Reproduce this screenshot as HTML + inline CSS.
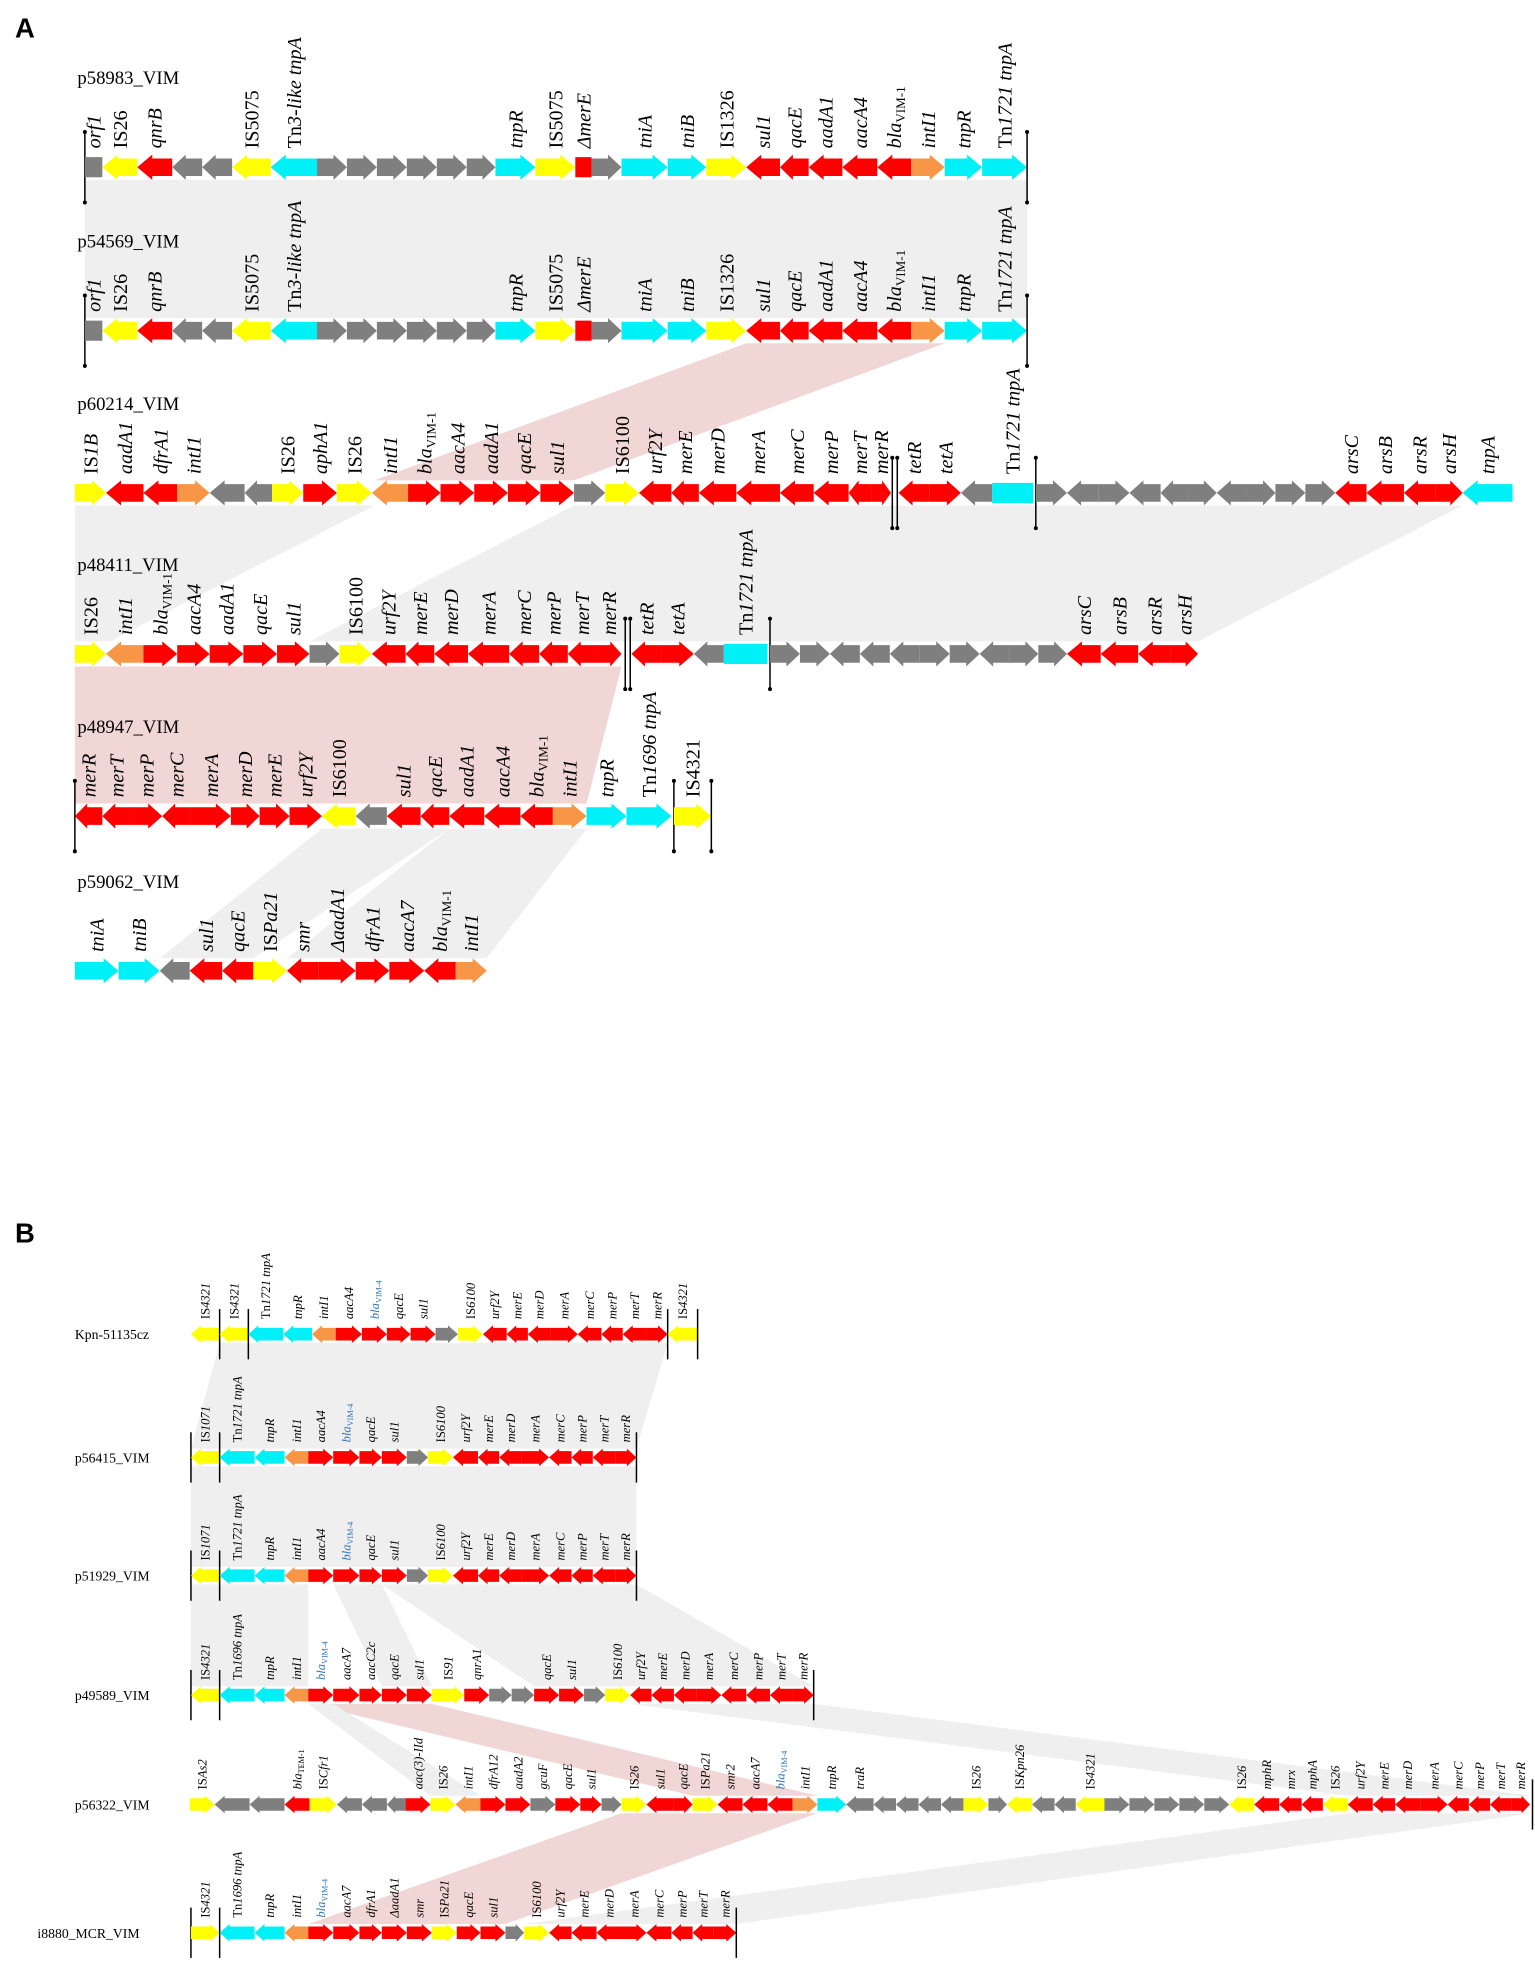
<!DOCTYPE html>
<html><head><meta charset="utf-8"><style>
html,body{margin:0;padding:0;background:#fff;}
svg{display:block;}
</style></head><body>
<svg id="fig" width="1535" height="1973" viewBox="0 0 1230 1569" preserveAspectRatio="none" xmlns="http://www.w3.org/2000/svg">
<g id="shades"></g>
<g id="tracks"></g>
<text x="12" y="30" font-family="Liberation Sans, sans-serif" font-weight="bold" font-size="22">A</text>
<text x="12" y="988" font-family="Liberation Sans, sans-serif" font-weight="bold" font-size="22">B</text>
</svg>
<script>
// Gene data: [endX, direction (r/l/n/bar/bar2), color code, label]
const COL={Y:'#ffff00',R:'#ff0000',C:'#00f0f8',G:'#7f7f7f',O:'#f79646'};
const trackNames=['p58983_VIM','p54569_VIM','p60214_VIM','p48411_VIM','p48947_VIM','p59062_VIM','Kpn-51135cz','p56415_VIM','p51929_VIM','p49589_VIM','p56322_VIM','i8880_MCR_VIM'];
const trackY=[133,263,392,520,649,772,1061,1159,1253,1348,1435,1537];
const trackX0=[68,68,60,60,60,60,153,153,153,153,152,153];
const big=[1,1,1,1,1,1,0,0,0,0,0,0];
const A1=[[68,'bar'],[82,'n','G','orf1'],[110,'l','Y','IS26'],[138,'l','R','qnrB'],[162,'l','G',''],[186,'l','G',''],[217,'l','Y','IS5075'],[254,'l','C','Tn3-like tnpA'],[278,'r','G',''],[302,'r','G',''],[326,'r','G',''],[350,'r','G',''],[374,'r','G',''],[397,'r','G',''],[429,'r','C','tnpR'],[461,'r','Y','IS5075'],[474,'n','R','ΔmerE'],[498,'r','G',''],[535,'r','C','tniA'],[566,'r','C','tniB'],[598,'r','Y','IS1326'],[625,'l','R','sul1'],[648,'l','R','qacE'],[675,'l','R','aadA1'],[703,'l','R','aacA4'],[730,'l','R','bla|VIM-1'],[757,'r','O','intI1'],[787,'r','C','tnpR'],[823,'r','C','Tn1721 tnpA'],[823,'bar']];
const A3=[[85,'r','Y','IS1B'],[115,'l','R','aadA1'],[142,'l','R','dfrA1'],[168,'r','O','intI1'],[196,'l','G',''],[218,'l','G',''],[243,'r','Y','IS26'],[270,'r','R','aphA1'],[298,'r','Y','IS26'],[327,'l','O','intI1'],[353,'r','R','bla|VIM-1'],[380,'r','R','aacA4'],[407,'r','R','aadA1'],[433,'r','R','qacE'],[460,'r','R','sul1'],[485,'r','G',''],[512,'r','Y','IS6100'],[538,'l','R','urf2Y'],[560,'l','R','merE'],[590,'l','R','merD'],[625,'l','R','merA'],[652,'l','R','merC'],[680,'l','R','merP'],[698,'l','R','merT'],[714,'r','R','merR'],[720,'bar2'],[745,'l','R','tetR'],[770,'r','R','tetA'],[795,'l','G',''],[828,'n','C','Tn1721 tnpA'],[830,'bar'],[855,'r','G',''],[880,'l','G',''],[905,'r','G',''],[930,'l','G',''],[952,'l','G',''],[975,'r','G',''],[1000,'l','G',''],[1022,'r','G',''],[1046,'r','G',''],[1070,'r','G',''],[1095,'l','R','arsC'],[1125,'l','R','arsB'],[1150,'l','R','arsR'],[1172,'r','R','arsH'],[1212,'l','C','tnpA']];
const A4=[[85,'r','Y','IS26'],[115,'l','O','intI1'],[142,'r','R','bla|VIM-1'],[168,'r','R','aacA4'],[195,'r','R','aadA1'],[222,'r','R','qacE'],[248,'r','R','sul1'],[272,'r','G',''],[298,'r','Y','IS6100'],[325,'l','R','urf2Y'],[348,'l','R','merE'],[375,'l','R','merD'],[408,'l','R','merA'],[432,'l','R','merC'],[455,'l','R','merP'],[478,'l','R','merT'],[498,'r','R','merR'],[506,'bar2'],[530,'l','R','tetR'],[556,'r','R','tetA'],[580,'l','G',''],[615,'n','C','Tn1721 tnpA'],[617,'bar'],[641,'r','G',''],[665,'r','G',''],[689,'l','G',''],[713,'l','G',''],[737,'l','G',''],[761,'r','G',''],[785,'r','G',''],[809,'l','G',''],[832,'r','G',''],[855,'r','G',''],[882,'l','R','arsC'],[912,'l','R','arsB'],[938,'l','R','arsR'],[960,'r','R','arsH']];
const A5=[[60,'bar'],[82,'l','R','merR'],[105,'l','R','merT'],[130,'r','R','merP'],[153,'l','R','merC'],[185,'r','R','merA'],[208,'r','R','merD'],[232,'r','R','merE'],[258,'r','R','urf2Y'],[285,'l','Y','IS6100'],[310,'l','G',''],[337,'l','R','sul1'],[360,'l','R','qacE'],[388,'l','R','aadA1'],[417,'l','R','aacA4'],[443,'l','R','bla|VIM-1'],[470,'r','O','intI1'],[502,'r','C','tnpR'],[538,'r','C','Tn1696 tnpA'],[540,'bar'],[570,'r','Y','IS4321'],[570,'bar']];
const A6=[[95,'r','C','tniA'],[128,'r','C','tniB'],[152,'l','G',''],[178,'l','R','sul1'],[203,'l','R','qacE'],[230,'r','Y','ISPa21'],[255,'l','R','smr'],[285,'r','R','ΔaadA1'],[312,'r','R','dfrA1'],[340,'r','R','aacA7'],[365,'l','R','bla|VIM-1'],[390,'r','O','intI1']];
const B1=[[176,'l','Y','IS4321'],[176,'bar'],[199,'l','Y','IS4321'],[199,'bar'],[227,'l','C','Tn1721 tnpA'],[250,'l','C','tnpR'],[269,'l','O','intI1'],[290,'r','R','aacA4'],[310,'r','R','bla|VIM-4'],[329,'r','R','qacE'],[349,'r','R','sul1'],[367,'r','G',''],[387,'r','Y','IS6100'],[406,'l','R','urf2Y'],[423,'l','R','merE'],[441,'l','R','merD'],[463,'r','R','merA'],[482,'l','R','merC'],[499,'l','R','merP'],[518,'l','R','merT'],[535,'r','R','merR'],[535,'bar'],[559,'l','Y','IS4321'],[559,'bar']];
const B2=[[153,'bar'],[176,'l','Y','IS1071'],[176,'bar'],[204,'l','C','Tn1721 tnpA'],[228,'l','C','tnpR'],[247,'l','O','intI1'],[267,'r','R','aacA4'],[288,'r','R','bla|VIM-4'],[306,'r','R','qacE'],[326,'r','R','sul1'],[343,'r','G',''],[363,'r','Y','IS6100'],[383,'l','R','urf2Y'],[400,'l','R','merE'],[418,'l','R','merD'],[440,'r','R','merA'],[458,'l','R','merC'],[475,'l','R','merP'],[493,'l','R','merT'],[510,'r','R','merR'],[510,'bar']];
const B4=[[153,'bar'],[176,'l','Y','IS4321'],[176,'bar'],[204,'l','C','Tn1696 tnpA'],[228,'l','C','tnpR'],[247,'l','O','intI1'],[267,'r','R','bla|VIM-4'],[288,'r','R','aacA7'],[306,'r','R','aacC2c'],[326,'r','R','qacE'],[346,'r','R','sul1'],[372,'r','Y','IS91'],[392,'r','R','qnrA1'],[410,'r','G',''],[428,'r','G',''],[448,'r','R','qacE'],[468,'r','R','sul1'],[485,'r','G',''],[505,'r','Y','IS6100'],[522,'l','R','urf2Y'],[540,'l','R','merE'],[558,'l','R','merD'],[578,'r','R','merA'],[598,'l','R','merC'],[617,'l','R','merP'],[635,'l','R','merT'],[652,'r','R','merR'],[652,'bar']];
const B5=[[172,'r','Y','ISAs2'],[200,'l','G',''],[228,'l','G',''],[248,'l','R','bla|TEM-1'],[270,'r','Y','ISCfr1'],[290,'l','G',''],[310,'l','G',''],[325,'l','G',''],[345,'r','R','aac(3)-IId'],[365,'r','Y','IS26'],[385,'l','O','intI1'],[405,'r','R','dfrA12'],[425,'r','R','aadA2'],[445,'r','G','gcuF'],[465,'r','R','qacE'],[482,'r','R','sul1'],[498,'r','G',''],[518,'r','Y','IS26'],[540,'l','R','sul1'],[555,'r','R','qacE'],[575,'r','Y','ISPa21'],[595,'l','R','smr2'],[615,'l','R','aacA7'],[635,'l','R','bla|VIM-4'],[655,'r','O','intI1'],[678,'r','C','tnpR'],[700,'l','G','traR'],[718,'l','G',''],[736,'l','G',''],[754,'l','G',''],[772,'l','G',''],[792,'r','Y','IS26'],[807,'r','G',''],[827,'l','Y','ISKpn26'],[845,'l','G',''],[862,'l','G',''],[885,'l','Y','IS4321'],[905,'r','G',''],[925,'r','G',''],[945,'r','G',''],[965,'r','G',''],[985,'r','G',''],[1005,'l','Y','IS26'],[1025,'l','R','mphR'],[1043,'l','R','mrx'],[1060,'l','R','mphA'],[1080,'l','Y','IS26'],[1100,'l','R','urf2Y'],[1118,'l','R','merE'],[1138,'l','R','merD'],[1160,'r','R','merA'],[1177,'l','R','merC'],[1194,'l','R','merP'],[1211,'l','R','merT'],[1226,'r','R','merR'],[1228,'bar']];
const B6=[[153,'bar'],[176,'r','Y','IS4321'],[176,'bar'],[204,'l','C','Tn1696 tnpA'],[228,'l','C','tnpR'],[247,'l','O','intI1'],[267,'r','R','bla|VIM-4'],[288,'r','R','aacA7'],[306,'r','R','dfrA1'],[326,'r','R','ΔaadA1'],[346,'r','R','smr'],[366,'r','Y','ISPa21'],[385,'r','R','qacE'],[405,'r','R','sul1'],[420,'r','G',''],[440,'r','Y','IS6100'],[458,'l','R','urf2Y'],[478,'l','R','merE'],[498,'l','R','merD'],[518,'r','R','merA'],[538,'l','R','merC'],[555,'l','R','merP'],[572,'l','R','merT'],[590,'r','R','merR'],[590,'bar']];
const trackGenes=[A1,A1,A3,A4,A5,A6,B1,B2,B2,B4,B5,B6];
// shading bands: [topTrack, x1, x2, bottomTrack, x3, x4, color]
const shades=[[0,68,823,1,68,823,'g'],[1,598,757,2,300,460,'p'],[2,60,300,3,60,88,'g'],[2,460,1172,3,248,960,'g'],[3,60,498,4,60,470,'p'],[4,258,310,5,128,152,'g'],[4,310,360,5,152,203,'g'],[4,360,470,5,230,390,'g'],
[6,176,535,7,153,510,'g'],[7,153,510,8,153,510,'g'],[8,153,247,9,153,247,'g'],[8,267,306,9,306,346,'g'],[8,306,343,9,428,485,'g'],[8,343,510,9,485,652,'g'],[9,505,652,10,1080,1228,'g'],[9,247,346,10,555,655,'p'],[9,247,267,10,345,385,'g'],[10,498,655,11,247,405,'p'],[10,1080,1228,11,420,590,'g']];

const NS='http://www.w3.org/2000/svg';
function mk(tag,attrs,parent){const e=document.createElementNS(NS,tag);for(const k in attrs)e.setAttribute(k,attrs[k]);parent.appendChild(e);return e;}
const gT=document.getElementById('tracks'),gS=document.getElementById('shades');
function geom(i){return big[i]?{h:14,H:20,hl:12,fs:16,ny:-72}:{h:10,H:14,hl:8,fs:10,ny:0};}
shades.forEach(s=>{
  const ga=geom(s[0]),gb=geom(s[3]);
  const y1=trackY[s[0]]+ga.H/2,y2=trackY[s[3]]-gb.H/2;
  const p=mk('polygon',{points:`${s[1]},${y1} ${s[2]},${y1} ${s[5]},${y2} ${s[4]},${y2}`,fill:s[6]==='p'?'#f1d6d6':'#efefef'},gS);
  
  
});
trackNames.forEach((nm,i)=>{
  const g=geom(i),y=trackY[i];
  const grp=mk('g',{},gT);
  
  
  const t=mk('text',{'font-family':'Liberation Serif, serif','font-size':big[i]?15:11},grp);
  if(big[i]){t.setAttribute('x',62);t.setAttribute('y',y-66);}else{t.setAttribute('x',nm.startsWith('i')?30:60);t.setAttribute('y',y+4);}
  t.textContent=nm;
  
  
  let x=trackX0[i];
  trackGenes[i].forEach(gd=>{
    const x2=gd[0],d=gd[1];
    if(d==='bar'||d==='bar2'){
      const xs=d==='bar2'?[x2-5,x2-1]:[x2];
      const ext=big[i]?28:20;
      xs.forEach(bx=>{
        const l=mk('line',{x1:bx,x2:bx,y1:y-ext,y2:y+ext,stroke:'#000','stroke-width':1.2},grp);
        
        
        if(big[i]){mk('circle',{cx:bx,cy:y-ext,r:1.6,fill:'#000'},grp);mk('circle',{cx:bx,cy:y+ext,r:1.6,fill:'#000'},grp);}
      });
      x=Math.max(x,x2);return;
    }
    const x1=x,w=x2-x1,hl=Math.min(g.hl,w*0.45),a=y-g.h/2,b=y+g.h/2,A=y-g.H/2,B=y+g.H/2;
    let pts;
    if(d==='r')pts=`${x1},${a} ${x2-hl},${a} ${x2-hl},${A} ${x2},${y} ${x2-hl},${B} ${x2-hl},${b} ${x1},${b}`;
    else if(d==='l')pts=`${x2},${a} ${x1+hl},${a} ${x1+hl},${A} ${x1},${y} ${x1+hl},${B} ${x1+hl},${b} ${x2},${b}`;
    else pts=`${x1},${A+2} ${x2},${A+2} ${x2},${B-2} ${x1},${B-2}`;
    const p=mk('polygon',{points:pts,fill:COL[gd[2]]},grp);
    
    
    if(gd[3]){
      const lab=gd[3],roman=/^(IS|Tn)/.test(lab);
      const cx=(x1+x2)/2+g.fs*0.35,ty=A-5;
      const tx=mk('text',{transform:`translate(${cx},${ty}) rotate(-90)`,'font-family':'Liberation Serif, serif','font-size':g.fs,'font-style':roman?'normal':'italic',fill:lab.startsWith('bla')&&!big[i]&&lab.includes('VIM')?'#2e75b6':'#000'},grp);
      
      
      if(lab.includes('|')){
        const [m,sub]=lab.split('|');
        const s1=mk('tspan',{},tx);s1.textContent=m;
        const s2=mk('tspan',{'font-size':g.fs*0.65,'font-style':'normal',dy:g.fs*0.2},tx);s2.textContent=sub;
      }else if(roman&&/\d/.test(lab)){
        const mm=lab.match(/^(IS|Tn)(\S*)(.*)$/);
        const s1=mk('tspan',{},tx);s1.textContent=mm[1];
        const s2=mk('tspan',{'font-style':/^IS\d+$/.test(lab)&&big[i]?'normal':'italic'},tx);s2.textContent=mm[2];
        if(mm[3]){const s3=mk('tspan',{'font-style':'italic'},tx);s3.textContent=mm[3];}
      }else tx.textContent=lab;
    }
    x=x2;
  });
});
</script>
</body></html>
